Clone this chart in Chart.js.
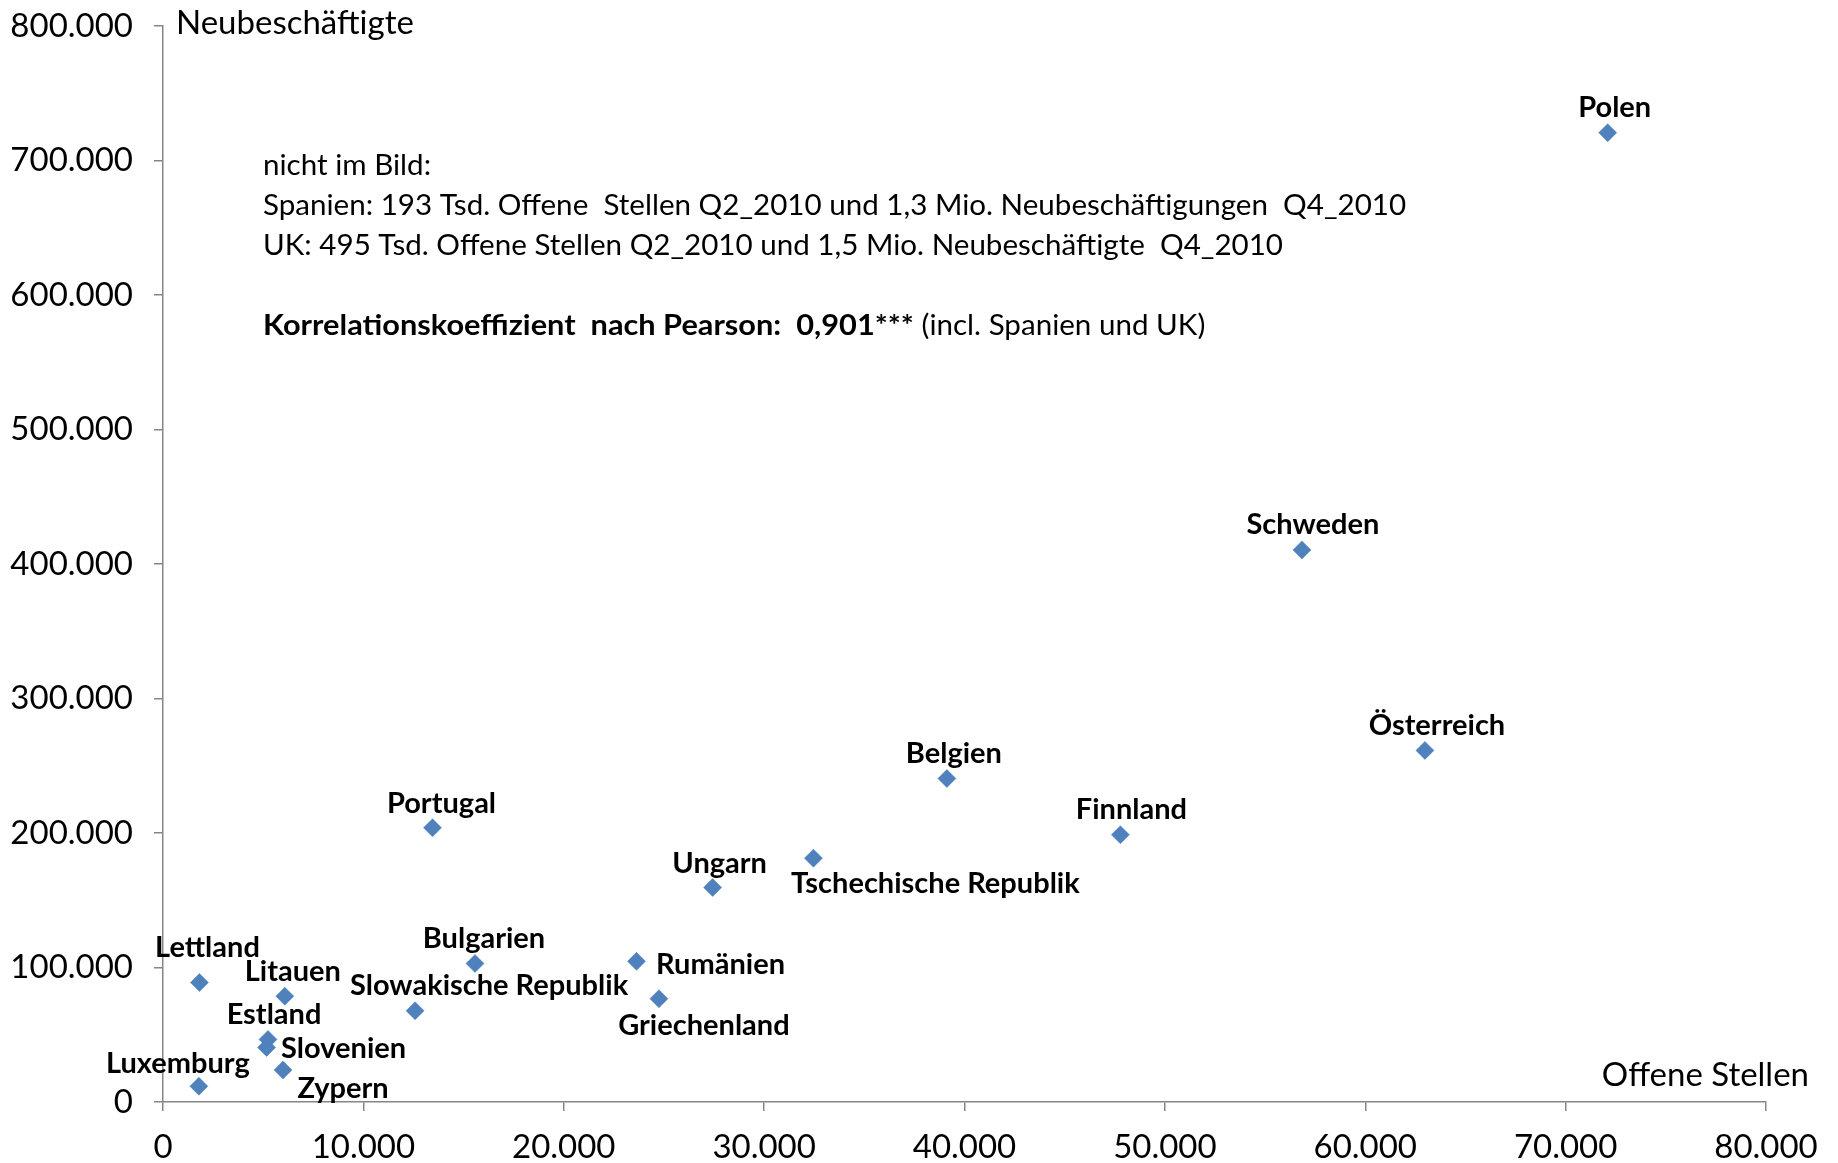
<!DOCTYPE html>
<html>
<head>
<meta charset="utf-8">
<script src="https://cdn.jsdelivr.net/npm/chart.js@4.4.0/dist/chart.umd.min.js"></script>
<style>
    body{ margin:0; background:#fff; }
    #wrap{ width:1838px; height:1163px; }
</style>
</head>
<body>
<div id="wrap"><canvas id="scatter" width="1838" height="1163"></canvas></div>
<script>
// ===== DATA =====
const countries = ["Polen", "Schweden", "Österreich", "Belgien", "Finnland", "Tschechische Republik",
    "Ungarn", "Portugal", "Bulgarien", "Rumänien", "Griechenland", "Slowakische Republik",
    "Lettland", "Litauen", "Estland", "Slovenien", "Zypern", "Luxemburg"];
const offeneStellen = [72100, 56840, 62980, 39120, 47780, 32460,
    27430, 13450, 15570, 23630, 24750, 12580,
    1820, 6080, 5240, 5170, 5990, 1790];
const neubeschaeftigte = [720700, 410500, 261400, 240500, 198700, 181300,
    159500, 203900, 103000, 104600, 76800, 67800,
    88800, 78700, 46500, 40600, 23700, 11700];
const xTicks = [0, 10000, 20000, 30000, 40000, 50000, 60000, 70000, 80000];
const yTicks = [0, 100000, 200000, 300000, 400000, 500000, 600000, 700000, 800000];

const noteLines = [
    "nicht im Bild:",
    "Spanien: 193 Tsd. Offene  Stellen Q2_2010 und 1,3 Mio. Neubeschäftigungen  Q4_2010",
    "UK: 495 Tsd. Offene Stellen Q2_2010 und 1,5 Mio. Neubeschäftigte  Q4_2010"
];
const noteBold = "Korrelationskoeffizient  nach Pearson:  0,901***";
const noteTail = " (incl. Spanien und UK)";

// ===== LAYOUT (label offsets from each point, px) =====
const labelOffsets = [
    [7, -25], [11, -25], [12, -25], [7, -25], [11, -25], [122, 25],
    [7, -24], [9, -24], [9, -25], [84, 3], [45, 27], [74, -25],
    [8, -35], [8, -25], [6, -25], [77, 1], [60, 19], [-21, -23]
];

const FONT = "Lato";
const AXIS = "#868686";
const fmt = v => Number(v).toLocaleString("de-DE");

function squeezeText(ctx, text, x, y, sx){
    ctx.save();
    ctx.translate(x, y);
    ctx.scale(sx, 1);
    ctx.fillText(text, 0, 0);
    let w = ctx.measureText(text).width * sx;
    ctx.restore();
    return w;
}

// ===== PLUGINS =====
const pointLabels = {
    id: "pointLabels",
    afterDatasetsDraw(chart){
        let ctx = chart.ctx;
        let meta = chart.getDatasetMeta(0);
        ctx.save();
        ctx.font = "bold 29px " + FONT;
        ctx.fillStyle = "#000";
        ctx.textAlign = "center";
        ctx.textBaseline = "middle";
        meta.data.forEach((pt, i) => {
            let off = labelOffsets[i];
            ctx.fillText(countries[i], pt.x + off[0], pt.y + off[1]);
        });
        ctx.restore();
    }
};

const notes = {
    id: "notes",
    afterDraw(chart){
        let ctx = chart.ctx;
        let a = chart.chartArea;
        ctx.save();
        ctx.fillStyle = "#000";
        ctx.textBaseline = "middle";

        // axis titles
        ctx.font = "33px " + FONT;
        ctx.textAlign = "left";
        ctx.fillText("Neubeschäftigte", a.left + 13, a.top - 3);
        ctx.textAlign = "right";
        ctx.fillText("Offene Stellen", a.right + 43, a.bottom - 27);

        // note block
        ctx.textAlign = "left";
        let x = a.left + 100;
        let ys = [a.top + 140, a.top + 180, a.top + 220];
        ctx.font = "29px " + FONT;
        noteLines.forEach((t, i) => squeezeText(ctx, t, x, ys[i], 1.02));
        ctx.font = "bold 29px " + FONT;
        let w = squeezeText(ctx, noteBold, x, a.top + 300, 1.06);
        ctx.font = "29px " + FONT;
        squeezeText(ctx, noteTail, x + w, a.top + 300, 1.02);
        ctx.restore();
    }
};

// ===== CHART =====
new Chart(document.getElementById("scatter"), {
    type: "scatter",
    data: {
        datasets: [{
            label: "Länder",
            data: offeneStellen.map((v, i) => ({ x: v, y: neubeschaeftigte[i] })),
            pointStyle: "rectRot",
            pointRadius: 9,
            pointHoverRadius: 9,
            backgroundColor: "#4F81BD",
            borderColor: "#4A7EBB",
            borderWidth: 0.5
        }]
    },
    options: {
        responsive: false,
        animation: false,
        layout: { padding: { top: 26, right: 72, left: 0, bottom: 0 } },
        plugins: {
            legend: { display: false },
            tooltip: { enabled: false }
        },
        scales: {
            x: {
                type: "linear",
                min: 0,
                max: 80000,
                afterBuildTicks: s => { s.ticks = xTicks.map(v => ({ value: v })); },
                afterFit: s => { s.height = 61; s.paddingLeft = 0; s.paddingRight = 0; },
                ticks: {
                    callback: fmt,
                    color: "#000",
                    font: { family: FONT, size: 33 },
                    padding: 17,
                    maxRotation: 0
                },
                grid: { drawOnChartArea: false, color: AXIS, tickLength: 9, lineWidth: 1.5 },
                border: { color: AXIS, width: 1.5 }
            },
            y: {
                type: "linear",
                min: 0,
                max: 800000,
                afterBuildTicks: s => { s.ticks = yTicks.map(v => ({ value: v })); },
                afterFit: s => { s.width = 163; s.paddingTop = 0; s.paddingBottom = 0; },
                ticks: {
                    callback: fmt,
                    color: "#000",
                    font: { family: FONT, size: 33 },
                    padding: 21
                },
                grid: { drawOnChartArea: false, color: AXIS, tickLength: 9, lineWidth: 1.5 },
                border: { color: AXIS, width: 1.5 }
            }
        }
    },
    plugins: [pointLabels, notes]
});
</script>
</body>
</html>
